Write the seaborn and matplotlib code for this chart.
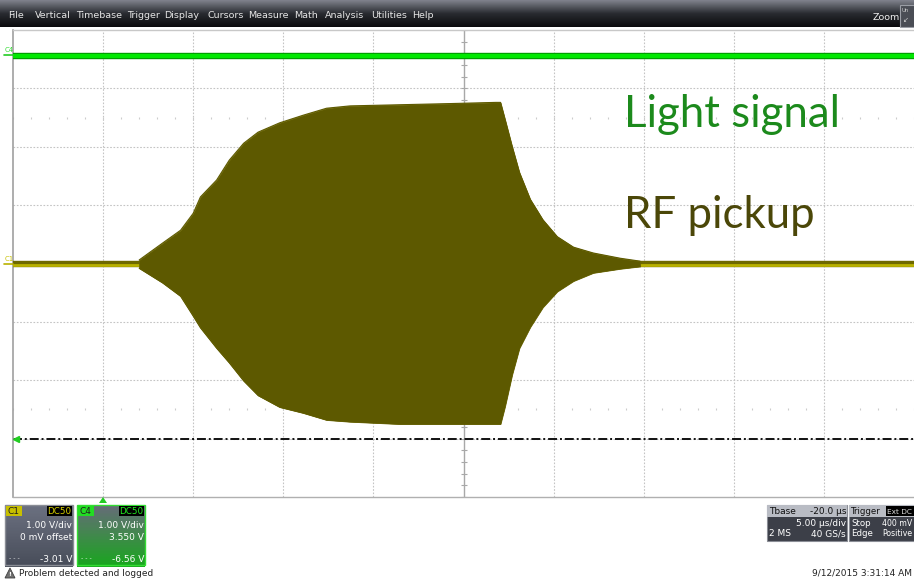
import numpy as np
import pandas as pd
import matplotlib
matplotlib.use("Agg")
import matplotlib.pyplot as plt
from matplotlib.patches import Rectangle, Polygon
import seaborn as sns

# ---- acquisition data (C1 in volts, 1 V/div; time in microseconds, 5 us/div) ----
env_t = [7.0, 8.3, 9.3, 10.0, 10.4, 11.3, 12.0, 12.8, 13.6, 14.8, 16.1, 17.4, 18.7,
         21.5, 24.3, 26.8, 27.05, 27.3, 27.7, 28.1, 28.7, 29.4, 30.2, 31.1, 32.2, 33.7, 34.8]
env_hi = [0.06, 0.35, 0.57, 0.86, 1.14, 1.43, 1.77, 2.06, 2.25, 2.41, 2.54, 2.66, 2.70,
          2.72, 2.74, 2.76, 2.76, 2.47, 2.00, 1.56, 1.10, 0.75, 0.46, 0.28, 0.18, 0.09, 0.04]
env_lo = [-0.08, -0.33, -0.56, -0.90, -1.10, -1.45, -1.70, -2.01, -2.26, -2.46, -2.56, -2.68, -2.71,
          -2.75, -2.75, -2.75, -2.75, -2.45, -1.90, -1.45, -1.09, -0.75, -0.48, -0.30, -0.16, -0.09, -0.05]

trace_t = [0.0, 50.0]
c1_level = [0.0, 0.0]        # RF pickup baseline (div)
c4_level = [3.56, 3.56]      # light signal (div, with 3.550 V offset)
cursor_level = -3.0          # C1 level marker (div)

menu_items = ["File", "Vertical", "Timebase", "Trigger", "Display", "Cursors",
              "Measure", "Math", "Analysis", "Utilities", "Help"]
menu_x = [8, 35, 76, 127, 164, 207, 248, 294, 325, 371, 412]

W, H = 914, 582
sns.set_theme(style="white")
plt.rcParams["font.family"] = ["DejaVu Sans"]

fig = plt.figure(figsize=(W / 100, H / 100), dpi=100)
fig.patch.set_facecolor("white")

# ---- scope screen ----
L, T, R, B = 13, 30, 914, 497
ax = fig.add_axes([L / W, 1 - B / H, (R - L) / W, (B - T) / H], zorder=1)
ax.set_xlim(0, 50)
ax.set_ylim(-4, 4)
ax.set_facecolor("white")
ax.set_xticks([]); ax.set_yticks([])
ax.spines["right"].set_visible(False)
ax.spines["left"].set_color("#a0a0a0"); ax.spines["left"].set_linewidth(1.2)
ax.spines["top"].set_color("#c8c8c8"); ax.spines["top"].set_linewidth(1.0)
ax.spines["bottom"].set_color("#b0b0b0"); ax.spines["bottom"].set_linewidth(1.0)

grid_kw = dict(color="#c4c4c4", lw=0.8, ls=(0, (1.5, 1.5)), zorder=0)
for xv in np.arange(5, 50, 5):
    if xv != 25:
        ax.axvline(xv, **grid_kw)
for yv in np.arange(-3, 4, 1):
    if yv != 0:
        ax.axhline(yv, **grid_kw)
ax.axvline(25, color="#a8a8a8", lw=1.0, zorder=0)
ax.axhline(0, color="#a8a8a8", lw=1.0, zorder=0)
minor_y = np.arange(-4, 4.01, 0.2)
ax.plot(np.full_like(minor_y, 25), minor_y, ls="none", marker="_", ms=4.5,
        mew=0.8, color="#a8a8a8", zorder=0)
minor_x = np.arange(0, 50.01, 1.0)
for row in (2.5, -2.5):
    ax.plot(minor_x, np.full_like(minor_x, row), ls="none", marker="|", ms=2.0,
            mew=0.8, color="#cccccc", zorder=0)

# level marker for C1
ax.axhline(cursor_level, color="#111111", lw=1.4, ls=(0, (4.6, 1.5, 1.0, 1.5)), zorder=2)
ax.plot([0.15], [cursor_level], marker="<", ms=5, color="#22cc22", clip_on=False, zorder=3)

# light signal trace (C4)
df4 = pd.DataFrame({"t": trace_t, "v": c4_level})
sns.lineplot(data=df4, x="t", y="v", ax=ax, color="#009a00", lw=4.6, zorder=3)
sns.lineplot(data=df4, x="t", y="v", ax=ax, color="#00e800", lw=3.0, zorder=3)

# RF pickup baseline (C1)
df1 = pd.DataFrame({"t": trace_t, "v": c1_level})
sns.lineplot(data=df1, x="t", y="v", ax=ax, color="#6e6900", lw=4.6, zorder=3)
sns.lineplot(data=df1, x="t", y=[v - 0.02 for v in c1_level], ax=ax, color="#b9b100", lw=2.0, zorder=3)

# RF burst envelope
ax.fill_between(env_t, env_lo, env_hi, color="#5d5900", lw=0.6, edgecolor="#6b6600", zorder=4)
dfe = pd.DataFrame({"t": env_t + env_t, "v": env_hi + env_lo,
                    "edge": ["hi"] * len(env_t) + ["lo"] * len(env_t)})
sns.lineplot(data=dfe, x="t", y="v", units="edge", estimator=None, ax=ax,
             color="#5d5900", lw=0.8, zorder=4)
ax.set_xlabel(""); ax.set_ylabel("")

# ---- overlay in pixel coordinates ----
ui = fig.add_axes([0, 0, 1, 1], zorder=2)
ui.set_xlim(0, W); ui.set_ylim(H, 0)
ui.axis("off")
ui.patch.set_alpha(0)

# menu bar
grad = np.linspace(0, 1, 64)
top_c = np.array([0.50, 0.51, 0.55]); mid_c = np.array([0.16, 0.17, 0.19]); bot_c = np.array([0.04, 0.04, 0.05])
rows = []
for g in grad:
    if g < 0.5:
        c = top_c + (mid_c - top_c) * (g / 0.5)
    else:
        c = mid_c + (bot_c - mid_c) * ((g - 0.5) / 0.5)
    rows.append(c)
img = np.array(rows)[:, None, :].repeat(4, axis=1)
ui.imshow(img, extent=[0, W, 27, 0], aspect="auto", zorder=1)
for name, xm in zip(menu_items, menu_x):
    ui.text(xm, 16, name, color="#e6e6e6", fontsize=6.8, va="center", ha="left", zorder=2)
ui.text(873, 17, "Zoom", color="#f0f0f0", fontsize=6.8, va="center", ha="left", zorder=2)
ui.add_patch(Rectangle((900, 5), 16, 22, facecolor="#4a4d55", edgecolor="#9a9da5", lw=0.8, zorder=2))
ui.text(902, 11, "Un", color="#d0d0d0", fontsize=3.8, va="center", ha="left", zorder=3)
ui.text(903, 20, "\u2199", color="#d0d0d0", fontsize=5, va="center", ha="left", zorder=3)

# channel tags on the left edge
ui.text(5, 50, "C4", color="#33dd33", fontsize=5, va="center", ha="left")
ui.plot([4, 13], [55, 55], color="#22cc22", lw=1.2)
ui.text(5, 259, "C1", color="#c8c000", fontsize=5, va="center", ha="left")
ui.plot([4, 13], [264, 264], color="#b9b100", lw=1.2)

# annotations
ui.text(624, 127, "Light signal", color="#1c8a1c", fontsize=31.5, family="Lato",
        va="baseline", ha="left", zorder=5)
ui.text(624, 228, "RF pickup", color="#4b4708", fontsize=31.5, family="Lato",
        va="baseline", ha="left", zorder=5)

# trigger position marker
ui.add_patch(Polygon([[99, 503], [107, 503], [103, 497]], closed=True, facecolor="#22cc22", edgecolor="none"))

# channel descriptor boxes
def chan_box(x0, tag, tag_bg, tag_fg, lines, glow):
    w, h = 68, 60
    y0 = 505
    n = 40
    for i in range(n):
        f = i / (n - 1)
        if glow:
            base = np.array([0.40, 0.42, 0.47]) * (1 - f) + np.array([0.10, 0.65, 0.12]) * f
        else:
            base = np.array([0.42, 0.44, 0.50]) * (1 - f) + np.array([0.28, 0.30, 0.35]) * f
        ui.add_patch(Rectangle((x0, y0 + f * h), w, h / n + 0.6, facecolor=base, edgecolor="none", zorder=2))
    ui.add_patch(Rectangle((x0, y0), w, h, facecolor="none",
                           edgecolor=("#33dd33" if glow else "#8a8d95"), lw=1.0, zorder=3))
    ui.add_patch(Rectangle((x0 + 1, y0 + 1), 16, 10, facecolor=tag_bg, edgecolor="none", zorder=3))
    ui.text(x0 + 2, y0 + 6.5, tag, color="#202020", fontsize=6.5, va="center", ha="left", zorder=4)
    ui.add_patch(Rectangle((x0 + w - 26, y0 + 1), 25, 10, facecolor="black", edgecolor="none", zorder=3))
    ui.text(x0 + w - 2, y0 + 6.5, "DC50", color=tag_fg, fontsize=6.3, va="center", ha="right", zorder=4)
    ui.text(x0 + w - 1, y0 + 20, lines[0], color="white", fontsize=6.5, va="center", ha="right", zorder=4)
    ui.text(x0 + w - 1, y0 + 32, lines[1], color="white", fontsize=6.5, va="center", ha="right", zorder=4)
    ui.text(x0 + 4, y0 + 54, "- - -", color="white", fontsize=4.5, va="center", ha="left", zorder=4)
    ui.text(x0 + w - 1, y0 + 54, lines[2], color="white", fontsize=6.5, va="center", ha="right", zorder=4)

chan_box(5, "C1", "#c8c000", "#d8d000", ["1.00 V/div", "0 mV offset", "-3.01 V"], False)
chan_box(77, "C4", "#22dd22", "#22ee22", ["1.00 V/div", "3.550 V", "-6.56 V"], True)

# timebase box
y0 = 505
ui.add_patch(Rectangle((767, y0), 80, 36, facecolor="#3c3f48", edgecolor="#8a8d95", lw=0.8, zorder=2))
ui.add_patch(Rectangle((767, y0), 80, 12, facecolor="#b9bcc4", edgecolor="none", zorder=3))
ui.text(769, y0 + 6.5, "Tbase", color="#111111", fontsize=6.5, va="center", ha="left", zorder=4)
ui.text(846, y0 + 6.5, "-20.0 \u00b5s", color="#111111", fontsize=6.5, va="center", ha="right", zorder=4)
ui.text(846, y0 + 18, "5.00 \u00b5s/div", color="white", fontsize=6.5, va="center", ha="right", zorder=4)
ui.text(769, y0 + 29, "2 MS", color="white", fontsize=6.5, va="center", ha="left", zorder=4)
ui.text(846, y0 + 29, "40 GS/s", color="white", fontsize=6.5, va="center", ha="right", zorder=4)

# trigger box (runs to the screen edge)
ui.add_patch(Rectangle((849, y0), 70, 36, facecolor="#3c3f48", edgecolor="#8a8d95", lw=0.8, zorder=2))
ui.add_patch(Rectangle((849, y0), 70, 12, facecolor="#b9bcc4", edgecolor="none", zorder=3))
ui.text(851, y0 + 6.5, "Trigger", color="#111111", fontsize=6.2, va="center", ha="left", zorder=4)
ui.add_patch(Rectangle((886, y0 + 1), 28, 10, facecolor="black", edgecolor="none", zorder=4))
ui.text(887, y0 + 6.5, "Ext DC", color="#dddddd", fontsize=5.3, va="center", ha="left", zorder=5)
ui.text(851, y0 + 18, "Stop", color="white", fontsize=6.2, va="center", ha="left", zorder=4)
ui.text(912, y0 + 18, "400 mV", color="white", fontsize=5.6, va="center", ha="right", zorder=4)
ui.text(851, y0 + 29, "Edge", color="white", fontsize=6.2, va="center", ha="left", zorder=4)
ui.text(912, y0 + 29, "Positive", color="white", fontsize=5.6, va="center", ha="right", zorder=4)

# status line
ui.add_patch(Polygon([[5, 578], [15, 578], [10, 568]], closed=True, facecolor="#707070", edgecolor="#404040", lw=0.6))
ui.text(9.9, 574.5, "!", color="white", fontsize=4.5, va="center", ha="center", fontweight="bold")
ui.text(19, 573, "Problem detected and logged", color="#222222", fontsize=6.5, va="center", ha="left")
ui.text(912, 573, "9/12/2015 3:31:14 AM", color="#222222", fontsize=6.5, va="center", ha="right")

fig.savefig("out.png", dpi=100)
